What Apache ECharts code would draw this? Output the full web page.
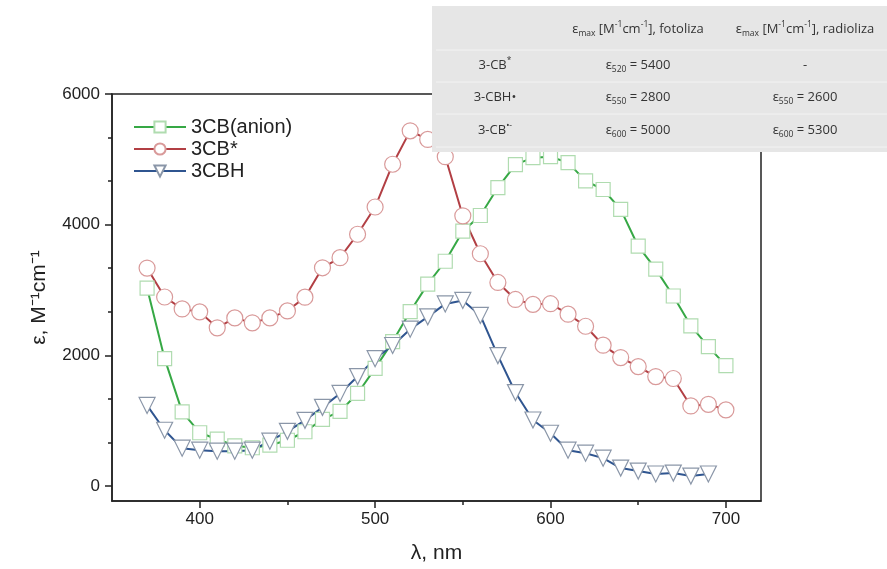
<!DOCTYPE html>
<html>
<head>
<meta charset="utf-8">
<script src="https://cdn.jsdelivr.net/npm/echarts@6/dist/echarts.min.js"></script>
<style>
  html, body { margin: 0; padding: 0; background: #fff; }
  #main { width: 887px; height: 569px; }
</style>
</head>
<body>
<div id="main"></div>
<script>
// wavelengths, nm
const wavelength = [370, 380, 390, 400, 410, 420, 430, 440, 450, 460, 470, 480, 490, 500, 510, 520, 530,
  540, 550, 560, 570, 580, 590, 600, 610, 620, 630, 640, 650, 660, 670, 680, 690, 700];

const anion = [3030, 1949, 1135, 815, 716, 615, 585, 624, 700, 830, 1020, 1142, 1416, 1800, 2210, 2670, 3090,
  3440, 3900, 4140, 4568, 4918, 5025, 5040, 4949, 4670, 4538, 4233, 3670, 3320, 2908, 2452, 2132, 1843];

const triplet = [3335, 2893, 2710, 2665, 2421, 2573, 2497, 2573, 2680, 2890, 3340, 3495, 3853, 4270, 4925, 5436, 5305,
  5040, 4135, 3555, 3115, 2855, 2780, 2790, 2630, 2445, 2155, 1965, 1827, 1675, 1645, 1225, 1250, 1165];

// 3CBH stops at 690 nm
const ketyl = [1233, 853, 579, 548, 533, 533, 548, 685, 837, 1005, 1203, 1416, 1675, 1949, 2150, 2400, 2589,
  2787, 2840, 2610, 1995, 1430, 1010, 807, 548, 502, 426, 274, 228, 183, 198, 152, 183];

const xMajor = [400, 500, 600, 700];
const xMinor = [450, 550, 650];
const yMajor = [0, 2000, 4000, 6000];
const yMinor = [667, 1333, 2667, 3333, 4667, 5333];

const tableHeader = [
  '{n|ε}{sub|max}{n| [M}{sup|-1}{n|cm}{sup|-1}{n|], fotoliza}',
  '{n|ε}{sub|max}{n| [M}{sup|-1}{n|cm}{sup|-1}{n|], radioliza}'
];
const tableRows = ['{n|3-CB}{sup|*}', '{n|3-CBH•}', '{n|3-CB}{sup|•-}'];
const tableFoto = ['{n|ε}{sub|520}{n| = 5400}', '{n|ε}{sub|550}{n| = 2800}', '{n|ε}{sub|600}{n| = 5000}'];
const tableRadio = ['{n|-}', '{n|ε}{sub|550}{n| = 2600}', '{n|ε}{sub|600}{n| = 5300}'];

const pairs = (ys) => ys.map((v, i) => [wavelength[i], v]);

const richText = {
  n: { fontSize: 13, lineHeight: 18, fontFamily: 'Open Sans', fill: '#333', verticalAlign: 'middle' },
  sub: { fontSize: 8.5, lineHeight: 9, fontFamily: 'Open Sans', fill: '#333', verticalAlign: 'bottom' },
  sup: { fontSize: 8.5, lineHeight: 9, fontFamily: 'Open Sans', fill: '#333', verticalAlign: 'top' }
};

function cell(text, x, y) {
  return {
    type: 'text',
    z: 102,
    style: {
      text: text,
      x: x,
      y: y,
      align: 'center',
      verticalAlign: 'middle',
      rich: richText
    }
  };
}

const tableGraphic = [
  { type: 'rect', z: 100, shape: { x: 432, y: 6, width: 455, height: 146 }, style: { fill: '#e6e6e6' } }
];
[50, 82, 114, 147].forEach(function (y) {
  tableGraphic.push({
    type: 'line', z: 101,
    shape: { x1: 436, y1: y, x2: 887, y2: y },
    style: { stroke: '#f3f3f3', lineWidth: 1 }
  });
});
tableGraphic.push(cell(tableHeader[0], 638, 29));
tableGraphic.push(cell(tableHeader[1], 805, 29));
const rowY = [65, 97, 130];
for (let i = 0; i < tableRows.length; i++) {
  tableGraphic.push(cell(tableRows[i], 495, rowY[i]));
  tableGraphic.push(cell(tableFoto[i], 638, rowY[i]));
  tableGraphic.push(cell(tableRadio[i], 805, rowY[i]));
}

const chart = echarts.init(document.getElementById('main'), null, { renderer: 'canvas' });

const axisFont = { fontSize: 17, fontFamily: 'Liberation Sans', color: '#222' };

const option = {
  animation: false,
  backgroundColor: '#fff',
  grid: {
    left: 112, right: 126, top: 94, bottom: 66,
    show: true, borderColor: '#222', borderWidth: 1.5, backgroundColor: 'transparent'
  },
  legend: {
    orient: 'vertical',
    left: 128,
    top: 112,
    itemWidth: 52,
    itemHeight: 14,
    itemGap: 2,
    textStyle: { fontSize: 20, fontFamily: 'Liberation Sans', color: '#222' },
    data: ['3CB(anion)', '3CB*', '3CBH']
  },
  xAxis: [
    {
      type: 'value', min: 350, max: 720, position: 'bottom',
      name: 'λ, nm', nameLocation: 'middle', nameGap: 42,
      nameTextStyle: { fontSize: 21, fontFamily: 'Liberation Sans', color: '#222' },
      axisLine: { show: true, onZero: false, lineStyle: { color: '#222', width: 1.5 } },
      axisTick: { show: true, length: 7, customValues: xMajor, lineStyle: { color: '#222', width: 1.5 } },
      axisLabel: Object.assign({ margin: 10, customValues: xMajor }, axisFont),
      splitLine: { show: false }
    },
    {
      type: 'value', min: 350, max: 720, position: 'bottom',
      axisLine: { show: false, onZero: false },
      axisTick: { show: true, length: 4, customValues: xMinor, lineStyle: { color: '#222', width: 1.5 } },
      axisLabel: { show: false },
      splitLine: { show: false }
    }
  ],
  yAxis: [
    {
      type: 'value', min: -230, max: 6000, position: 'left',
      name: 'ε, M⁻¹cm⁻¹', nameLocation: 'middle', nameGap: 62, nameRotate: 90,
      nameTextStyle: { fontSize: 21, fontFamily: 'Liberation Sans', color: '#222' },
      axisLine: { show: true, onZero: false, lineStyle: { color: '#222', width: 1.5 } },
      axisTick: { show: true, length: 7, customValues: yMajor, lineStyle: { color: '#222', width: 1.5 } },
      axisLabel: Object.assign({ margin: 12, customValues: yMajor, formatter: (v) => String(v) }, axisFont),
      splitLine: { show: false }
    },
    {
      type: 'value', min: -230, max: 6000, position: 'left',
      axisLine: { show: false, onZero: false },
      axisTick: { show: true, length: 4, customValues: yMinor, lineStyle: { color: '#222', width: 1.5 } },
      axisLabel: { show: false },
      splitLine: { show: false }
    }
  ],
  series: [
    {
      name: '3CB(anion)', type: 'line', data: pairs(anion),
      symbol: 'rect', symbolSize: 14,
      lineStyle: { color: '#36a845', width: 2 },
      itemStyle: { color: '#fff', borderColor: '#b0dcb0', borderWidth: 1.2 },
      emphasis: { disabled: true }
    },
    {
      name: '3CB*', type: 'line', data: pairs(triplet),
      symbol: 'circle', symbolSize: 16,
      lineStyle: { color: '#b23f44', width: 2 },
      itemStyle: { color: '#fff', borderColor: '#d99a9a', borderWidth: 1.2 },
      emphasis: { disabled: true }
    },
    {
      name: '3CBH', type: 'line', data: pairs(ketyl),
      symbol: 'triangle', symbolRotate: 180, symbolSize: 16,
      lineStyle: { color: '#2f5590', width: 2 },
      itemStyle: { color: '#fff', borderColor: '#8a96a8', borderWidth: 1.2 },
      emphasis: { disabled: true }
    }
  ],
  graphic: tableGraphic
};

chart.setOption(option);
</script>
</body>
</html>
